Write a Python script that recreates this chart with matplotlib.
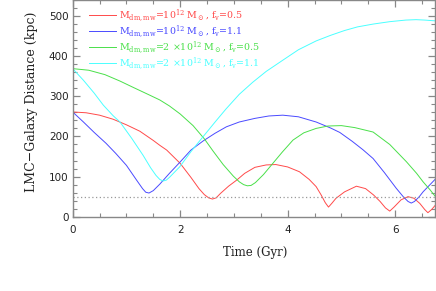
import numpy as np
import matplotlib
matplotlib.use("Agg")
import matplotlib.pyplot as plt
from matplotlib.ticker import MultipleLocator

# ---- data ----
red_t = [0.0, 0.25, 0.5, 0.75, 1.0, 1.25, 1.5, 1.62, 1.75, 2.0, 2.2, 2.35, 2.45, 2.53, 2.6,
         2.67, 2.75, 2.9, 3.05, 3.2, 3.39, 3.6, 3.78, 4.0, 4.22, 4.4, 4.53, 4.62, 4.7, 4.76,
         4.82, 4.9, 5.06, 5.28, 5.45, 5.6, 5.72, 5.82, 5.9, 5.98, 6.11, 6.24, 6.35, 6.46,
         6.55, 6.61, 6.68, 6.75]
red_d = [261, 259, 253, 243, 229, 213, 190, 178, 166, 133, 98, 70, 55, 47, 44,
         47, 58, 76, 91, 108, 123, 129, 130, 124, 112, 93, 75, 55, 35, 24,
         33, 46, 62, 76, 70, 54, 38, 22, 14, 24, 42, 50, 46, 33,
         18, 10, 18, 29]

blue_t = [0.0, 0.2, 0.4, 0.62, 0.8, 1.0, 1.19, 1.3, 1.36, 1.42, 1.5, 1.62, 1.8, 1.99, 2.2,
          2.43, 2.65, 2.86, 3.1, 3.39, 3.65, 3.91, 4.2, 4.53, 4.8, 4.97, 5.2, 5.4, 5.59,
          5.8, 6.02, 6.15, 6.24, 6.3, 6.36, 6.45, 6.52, 6.65, 6.75]
blue_d = [261, 236, 210, 183, 158, 128, 91, 70, 61, 59, 65, 81, 108, 135, 166,
          189, 208, 224, 236, 245, 251, 253, 249, 236, 221, 210, 188, 167, 145,
          110, 71, 50, 38, 34, 38, 50, 62, 80, 94]

green_t = [0.0, 0.3, 0.6, 0.88, 1.13, 1.4, 1.62, 1.8, 2.0, 2.24, 2.45, 2.61, 2.8, 2.99,
           3.1, 3.18, 3.25, 3.32, 3.4, 3.55, 3.7, 3.9, 4.1, 4.3, 4.53, 4.75, 5.0, 5.25,
           5.59, 5.9, 6.21, 6.4, 6.52, 6.65, 6.75]
green_d = [369, 365, 354, 338, 322, 305, 291, 276, 256, 227, 194, 164, 130, 101,
           87, 80, 77, 78, 85, 105, 129, 161, 191, 209, 220, 226, 227, 222,
           211, 180, 137, 108, 87, 67, 50]

cyan_t = [0.0, 0.2, 0.4, 0.57, 0.75, 0.88, 1.1, 1.31, 1.45, 1.55, 1.62, 1.68, 1.74, 1.8,
          1.99, 2.2, 2.43, 2.65, 2.85, 3.1, 3.35, 3.6, 3.91, 4.2, 4.53, 4.8, 5.06, 5.3,
          5.59, 5.9, 6.2, 6.39, 6.55, 6.75]
cyan_d = [369, 340, 308, 278, 252, 236, 195, 153, 122, 103, 93, 89, 91, 98,
          124, 162, 200, 236, 268, 305, 335, 362, 390, 416, 438, 452, 464, 473,
          480, 486, 490, 491, 490, 488]

series = [
    (red_t, red_d, "#ff4a4a", r"M$_{\rm dm,mw}$=10$^{12}$ M$_\odot$, f$_{\rm v}$=0.5"),
    (blue_t, blue_d, "#4a4aff", r"M$_{\rm dm,mw}$=10$^{12}$ M$_\odot$, f$_{\rm v}$=1.1"),
    (green_t, green_d, "#4ae04a", r"M$_{\rm dm,mw}$=2 $\times$10$^{12}$ M$_\odot$, f$_{\rm v}$=0.5"),
    (cyan_t, cyan_d, "#4affff", r"M$_{\rm dm,mw}$=2 $\times$10$^{12}$ M$_\odot$, f$_{\rm v}$=1.1"),
]

plt.rcParams["mathtext.fontset"] = "dejavuserif"

fig = plt.figure(figsize=(4.36, 2.91), dpi=100)
ax = fig.add_axes([0.1667, 0.2553, 0.832, 0.7447])

for t, d, c, lab in series:
    ax.plot(t, d, color=c, linewidth=0.7, label=lab)

ax.axhline(50, color="#999999", linestyle=(0, (1, 2)), linewidth=0.9)

ax.set_xlim(0, 6.75)
ax.set_ylim(0, 540)

ax.xaxis.set_major_locator(MultipleLocator(2))
ax.xaxis.set_minor_locator(MultipleLocator(0.5))
ax.yaxis.set_major_locator(MultipleLocator(100))
ax.yaxis.set_minor_locator(MultipleLocator(20))

for s in ax.spines.values():
    s.set_color("#888888")
    s.set_linewidth(1.0)

ax.tick_params(which="both", direction="in", top=True, right=True, color="#888888",
               labelsize=7.5, labelcolor="#222222")
ax.tick_params(which="major", length=5, width=0.9)
ax.tick_params(which="minor", length=2.8, width=0.8)
ax.tick_params(axis="x", pad=6)
ax.tick_params(axis="y", pad=3)

ax.set_xlabel("Time (Gyr)", family="DejaVu Serif", fontsize=8.5, color="#222222")
ax.xaxis.set_label_coords(0.503, -0.135)
ax.set_ylabel("LMC\u2212Galaxy Distance (kpc)", family="DejaVu Serif", fontsize=9,
              color="#222222")
ax.yaxis.set_label_coords(-0.096, 0.53)

leg = ax.legend(loc="upper left", bbox_to_anchor=(0.045, 0.965), frameon=False,
                handlelength=2.9, handletextpad=0.25, labelspacing=-0.05,
                prop={"family": "DejaVu Serif", "size": 6.8}, borderaxespad=0,
                borderpad=0)
for txt, (_, _, c, _) in zip(leg.get_texts(), series):
    txt.set_color(c)

fig.savefig("out.png", dpi=100)
